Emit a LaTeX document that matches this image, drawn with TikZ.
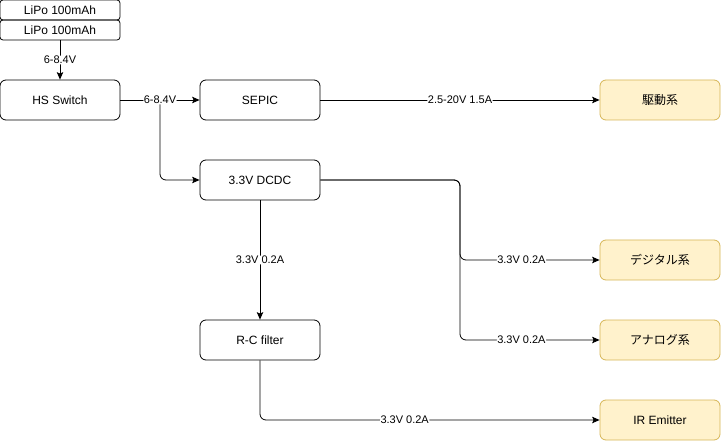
\documentclass[tikz,border=0pt]{standalone}
\usepackage{fontspec}
\setmainfont{Liberation Sans}
\newfontfamily\jpfont{Noto Sans CJK JP}
\usetikzlibrary{arrows.meta}
\definecolor{loadfill}{HTML}{FFF2CC}
\definecolor{loaddraw}{HTML}{D6B656}
\begin{document}
\begin{tikzpicture}[x=1pt,y=-1pt,
	block/.style={draw,line width=0.8pt,rounded corners=6pt,minimum width=120pt,minimum height=40pt,inner sep=0pt,font=\fontsize{12}{14}\selectfont},
	cell/.style={draw,line width=0.8pt,rounded corners=3pt,minimum width=120pt,minimum height=20pt,inner sep=0pt,font=\fontsize{12}{14}\selectfont},
	load/.style={block,draw=loaddraw,fill=loadfill},
	edge/.style={line width=0.8pt,rounded corners=6pt,-{Stealth[length=7.5pt,width=6.5pt,inset=1.5pt]}},
	lbl/.style={fill=white,inner sep=0.5pt,font=\fontsize{11}{13}\selectfont}]
\useasboundingbox (0,0) rectangle (721,441);

% battery pack
\node[cell] (lipoA) at (60,10) {LiPo 100mAh};
\node[cell] (lipoB) at (60,30) {LiPo 100mAh};

% converters
\node[block] (hs) at (60,100) {HS Switch};
\node[block] (sepic) at (260,100) {SEPIC};
\node[block] (dcdc) at (260,180) {3.3V DCDC};
\node[block] (rc) at (260,340) {R-C filter};

% loads
\node[load] (drive) at (660,100) {\jpfont 駆動系};
\node[load] (digital) at (660,260) {\jpfont デジタル系};
\node[load] (analog) at (660,340) {\jpfont アナログ系};
\node[load] (ir) at (660,420) {IR Emitter};

\coordinate (tap) at (160,100);
\coordinate (split) at (460,180);

\draw[edge] (lipoB.south) -- node[lbl]{6-8.4V} (hs.north);
\draw[edge] (tap) |- (dcdc.west);
\draw[edge] (hs.east) -- node[lbl]{6-8.4V} (sepic.west);
\draw[edge] (sepic.east) -- node[lbl]{2.5-20V 1.5A} (drive.west);
\draw[edge] (dcdc.east) -- (split) |- node[lbl,pos=0.72]{3.3V 0.2A} (digital.west);
\draw[edge] (dcdc.east) -- (split) |- node[lbl,pos=0.72]{3.3V 0.2A} (analog.west);
\draw[edge] (dcdc.south) -- node[lbl]{3.3V 0.2A} (rc.north);
\draw[edge] (rc.south) |- node[lbl,pos=0.713]{3.3V 0.2A} (ir.west);
\end{tikzpicture}
\end{document}
